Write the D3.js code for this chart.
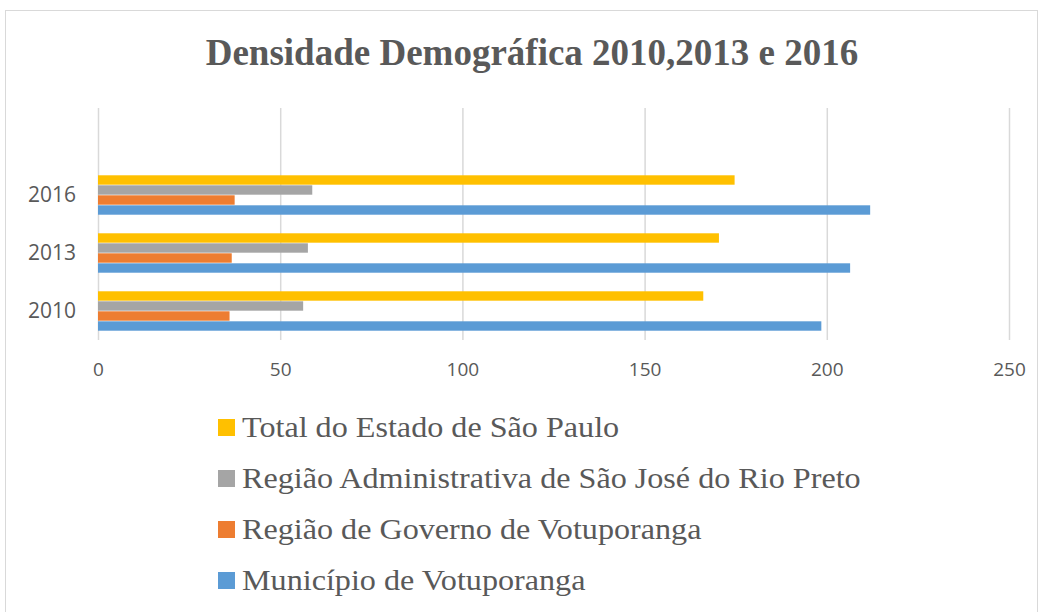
<!DOCTYPE html>
<html><head><meta charset="utf-8">
<script src="https://cdn.jsdelivr.net/npm/d3@7"></script>
<style>body{margin:0;background:#fff}svg{display:block}</style>
</head><body>
<script>
const years = ["2010", "2013", "2016"];
const seriesNames = ["Município de Votuporanga", "Região de Governo de Votuporanga", "Região Administrativa de São José do Rio Preto", "Total do Estado de São Paulo"];
const colors = ["#5B9BD5", "#ED7D31", "#A5A5A5", "#FFC000"];
const municipio = [198.5, 206.4, 211.9];
const regiaoGoverno = [36.1, 36.7, 37.5];
const regiaoAdmin = [56.3, 57.6, 58.8];
const totalEstado = [166.1, 170.4, 174.7];
const xTicks = [0, 50, 100, 150, 200, 250];
const title = "Densidade Demográfica 2010,2013 e 2016";

const seriesValues = [municipio, regiaoGoverno, regiaoAdmin, totalEstado];
const W = 1043, H = 612;
const svg = d3.select("body").append("svg").attr("width", W).attr("height", H);
svg.append("rect").attr("x", 5.5).attr("y", 10.5).attr("width", W - 11).attr("height", H + 10)
  .attr("fill", "#fff").attr("stroke", "#D9D9D9").attr("stroke-width", 1);

svg.append("text").attr("x", 532).attr("y", 65).attr("text-anchor", "middle")
  .attr("font-family", "'Liberation Serif', 'Times New Roman', serif").attr("font-weight", "bold")
  .attr("font-size", 37).attr("fill", "#595959").text(title);

const x = d3.scaleLinear().domain([0, 250]).range([98, 1009]);
// four category slots; top one is empty as in the original
const y = d3.scaleBand().domain([...years, " "]).range([340, 108]).paddingInner(0.31).paddingOuter(0.155);
const ySub = d3.scaleBand().domain(d3.range(seriesNames.length).reverse()).range([0, y.bandwidth()]);

const xAxis = svg.append("g").attr("transform", "translate(0,340)")
  .call(d3.axisBottom(x).tickValues(xTicks).tickSize(-232).tickPadding(23));
xAxis.select(".domain").remove();
xAxis.selectAll(".tick line").attr("stroke", "#D9D9D9").attr("stroke-width", 1.5);
xAxis.selectAll(".tick text").attr("font-family", "'Open Sans', sans-serif")
  .attr("font-size", 19).attr("fill", "#595959");

const yAxis = svg.append("g").attr("transform", "translate(98,0)")
  .call(d3.axisLeft(y).tickValues(years).tickSize(0).tickPadding(22));
yAxis.select(".domain").remove();
yAxis.selectAll(".tick text").attr("font-family", "'Open Sans', sans-serif")
  .attr("font-size", 21).attr("fill", "#595959");

years.forEach((yr, i) => {
  seriesValues.forEach((vals, s) => {
    svg.append("rect").attr("x", x(0)).attr("y", y(yr) + ySub(s) + 0.3)
      .attr("width", x(vals[i]) - x(0)).attr("height", ySub.bandwidth() - 0.6)
      .attr("fill", colors[s]);
  });
});

const legendOrder = [3, 2, 1, 0];
legendOrder.forEach((s, k) => {
  const ly = 419 + k * 51;
  svg.append("rect").attr("x", 218).attr("y", ly).attr("width", 17).attr("height", 17).attr("fill", colors[s]);
  svg.append("text").attr("transform", `translate(242,${ly + 18}) scale(1.09,1)`)
    .attr("font-family", "'Liberation Serif', 'Times New Roman', serif")
    .attr("font-size", 29.5).attr("fill", "#595959").text(seriesNames[s]);
});
</script>
</body></html>
